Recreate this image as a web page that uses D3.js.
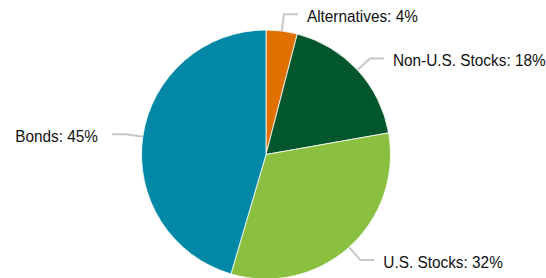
<!DOCTYPE html>
<html>
<head>
<meta charset="utf-8">
<script src="https://cdn.jsdelivr.net/npm/d3@7"></script>
<style>
  body { margin: 0; background: #fff; }
  text { font-family: "Liberation Sans", Arial, sans-serif; font-size: 16px; fill: #111; }
</style>
</head>
<body>
<svg id="chart" width="546" height="278"></svg>
<script>
const categories = ["Alternatives", "Non-U.S. Stocks", "U.S. Stocks", "Bonds"];
const values = [4, 18, 32, 45];
const colors = ["#e07000", "#02562b", "#8abf3f", "#0088a6"];

const radius = 124.5;
const cx = 266;
const cy = 154.5;

const data = categories.map((c, i) => ({ name: c, value: values[i], color: colors[i] }));

const svg = d3.select("#chart");
const root = svg.append("g").attr("transform", `translate(${cx}, ${cy})`);

const pie = d3.pie().sort(null).value((d) => d.value);
const arcs = pie(data);
const arc = d3.arc().innerRadius(0).outerRadius(radius);

// Draw slices
root
  .append("g")
  .selectAll("path")
  .data(arcs)
  .enter()
  .append("path")
  .attr("d", arc)
  .attr("fill", (d) => d.data.color)
  .attr("stroke", "#fff")
  .attr("stroke-width", 0.8);

// Leader lines and labels
const pointAt = (a, r) => [Math.sin(a) * r, -Math.cos(a) * r];

const labels = root.append("g");
arcs.forEach((d) => {
  const mid = (d.startAngle + d.endAngle) / 2;
  const right = Math.sin(mid) >= 0;
  const p0 = pointAt(mid, radius);
  const p1 = pointAt(mid, radius + 17);
  const p2 = [p1[0] + (right ? 14 : -14), p1[1]];

  labels
    .append("polyline")
    .attr("points", [p0, p1, p2].map((p) => p.join(",")).join(" "))
    .attr("fill", "none")
    .attr("stroke", "#c8c8c8")
    .attr("stroke-width", 2);

  // slightly condensed text, like the original
  labels
    .append("g")
    .attr("transform", `translate(${p2[0] + (right ? 9 : -14)}, ${p2[1] + 2}) scale(0.96, 1)`)
    .append("text")
    .attr("dy", "0.35em")
    .attr("text-anchor", right ? "start" : "end")
    .text(`${d.data.name}: ${d.data.value}%`);
});
</script>
</body>
</html>
